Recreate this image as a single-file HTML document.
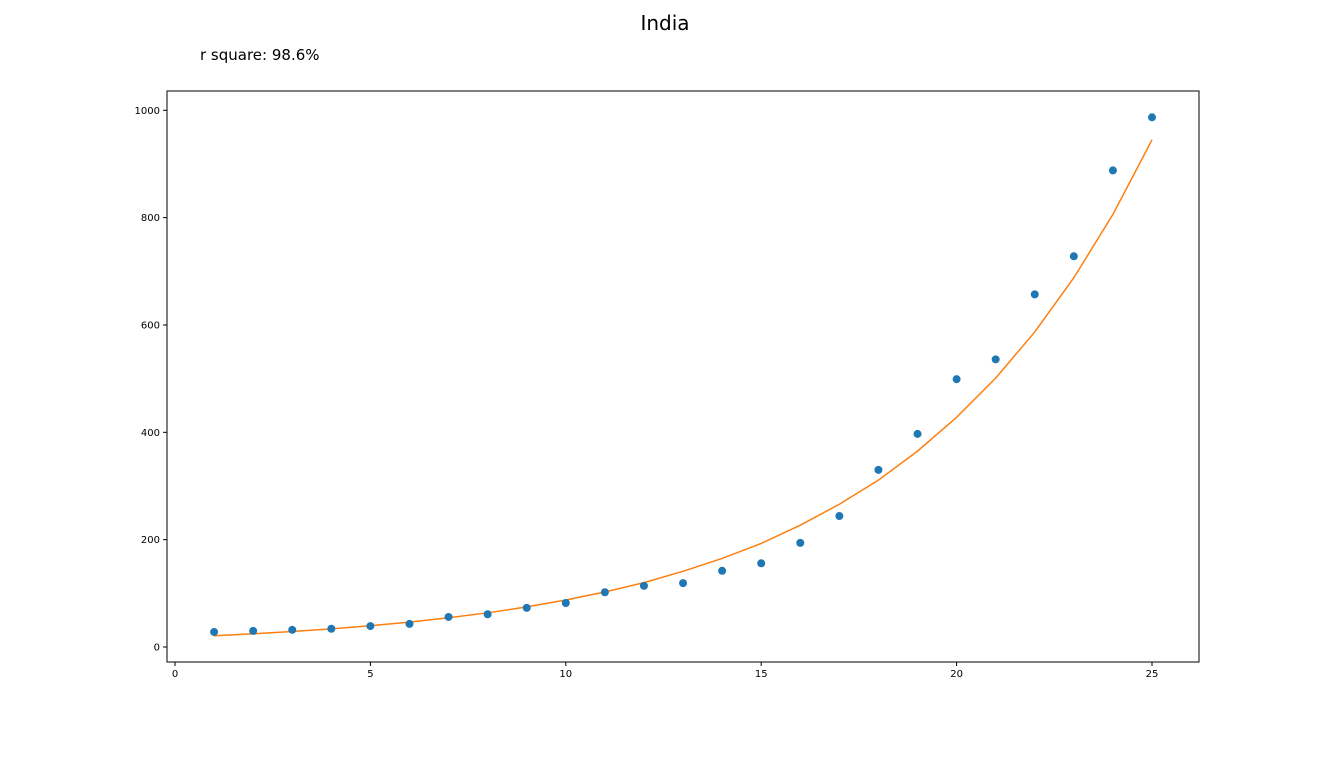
<!DOCTYPE html>
<html><head><meta charset="utf-8"><style>
body{margin:0;background:#fff;width:1332px;height:756px;overflow:hidden;font-family:"Liberation Sans","DejaVu Sans",sans-serif}
</style></head><body>
<svg id="chart" width="1332" height="756" xmlns="http://www.w3.org/2000/svg">
<text x="665" y="30" text-anchor="middle" font-size="20" font-family="DejaVu Sans, sans-serif">India</text>
<text x="200" y="60" font-size="15" font-family="DejaVu Sans, sans-serif">r square: 98.6%</text>
<g id="plot"></g>
</svg>
<script>
const xTicks=[0,5,10,15,20,25];
const yTicks=[0,200,400,600,800,1000];
const days=[1,2,3,4,5,6,7,8,9,10,11,12,13,14,15,16,17,18,19,20,21,22,23,24,25];
const actual=[28,30,32,34,39,43,56,61,73,82,102,114,119,142,156,194,244,330,397,499,536,657,728,888,987];
const fitted=[21,24.6,28.8,33.8,39.6,46.4,54.4,63.7,74.7,87.5,102.5,120,141,165,193,227,266,311,365,428,501,587,688,806,945];
const L=167,R=1199,T=91,B=662;
const xs=v=>175+v*39.08;
const ys=v=>647-v*0.5367;
const NS="http://www.w3.org/2000/svg";
const g=document.getElementById('plot');
function mk(t,a){const e=document.createElementNS(NS,t);for(const k in a)e.setAttribute(k,a[k]);g.appendChild(e);return e;}
xTicks.forEach(v=>{
  const t=mk('line',{x1:xs(v),x2:xs(v),y1:B,y2:B+4,stroke:'#000','stroke-width':1});
  
  
  const l=mk('text',{x:xs(v),y:B+15,'text-anchor':'middle','font-size':10,'font-family':'DejaVu Sans, sans-serif'});
  l.textContent=v;
  
  
});
yTicks.forEach(v=>{
  const t=mk('line',{x1:L-4,x2:L,y1:ys(v),y2:ys(v),stroke:'#000','stroke-width':1});
  
  
  const l=mk('text',{x:L-7,y:ys(v)+3.5,'text-anchor':'end','font-size':10,'font-family':'DejaVu Sans, sans-serif'});
  l.textContent=v;
  
  
});
const line=mk('polyline',{points:days.map((d,i)=>xs(d)+','+ys(fitted[i])).join(' '),fill:'none',stroke:'#ff7f0e','stroke-width':1.5});


days.forEach((d,i)=>{
  const c=mk('circle',{cx:xs(d),cy:ys(actual[i]),r:4,fill:'#1f77b4'});
  
  
});
const frame=mk('rect',{x:L,y:T,width:R-L,height:B-T,fill:'none',stroke:'#000','stroke-width':1});


</script>
</body></html>
